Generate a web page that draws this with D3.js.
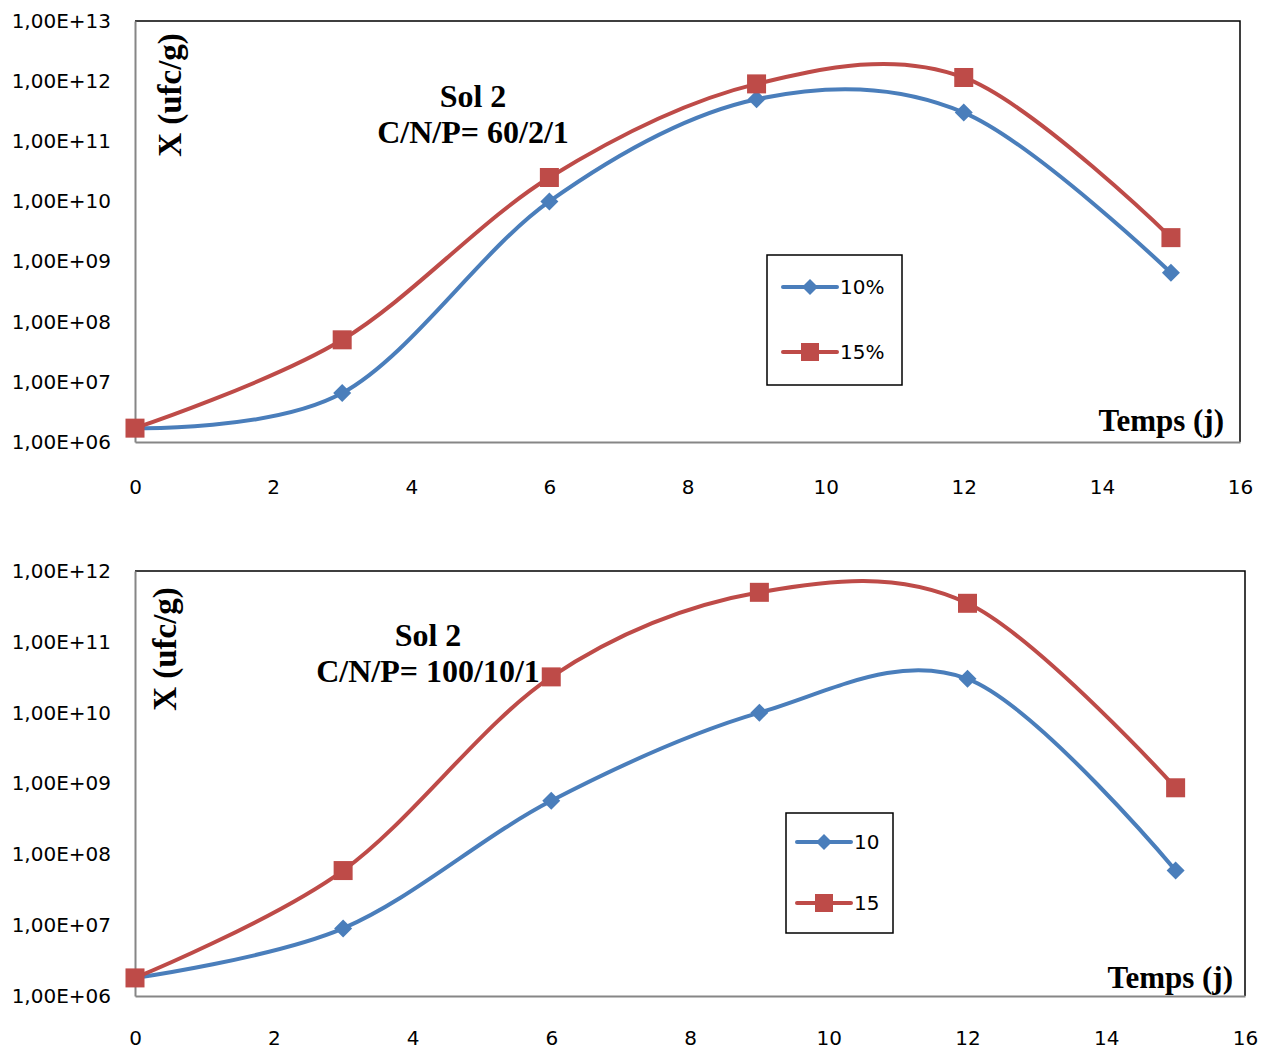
<!DOCTYPE html>
<html><head><meta charset="utf-8">
<script src="https://cdn.jsdelivr.net/npm/d3@7"></script>
<style>body{margin:0;background:#fff}</style>
</head><body>
<svg id="c" width="1271" height="1049"></svg>
<script>
const days = [0, 3, 6, 9, 12, 15];
const xTicks = [0, 2, 4, 6, 8, 10, 12, 14, 16];

// Chart 1 : Sol 2, C/N/P = 60/2/1
const top10 = [1.7e6, 6.5e6, 1.0e10, 5.0e11, 3.0e11, 6.5e8];
const top15 = [1.7e6, 5.0e7, 2.5e10, 9.0e11, 1.15e12, 2.5e9];
const topYTicks = [1e6, 1e7, 1e8, 1e9, 1e10, 1e11, 1e12, 1e13];
const topLegend = ["10%", "15%"];

// Chart 2 : Sol 2, C/N/P = 100/10/1
const bot10 = [1.8e6, 9.0e6, 5.7e8, 1.0e10, 3.0e10, 5.9e7];
const bot15 = [1.8e6, 5.9e7, 3.2e10, 5.0e11, 3.5e11, 8.7e8];
const botYTicks = [1e6, 1e7, 1e8, 1e9, 1e10, 1e11, 1e12];
const botLegend = ["10", "15"];

const BLUE = "#4a7ebb", RED = "#be4b48";
const svg = d3.select("#c");

function fmt(v){ return "1,00E+" + String(Math.round(Math.log10(v))).padStart(2,"0"); }

function chart(cfg){
  const g = svg.append("g");
  const x = d3.scaleLinear().domain([0,16]).range([cfg.left, cfg.right]);
  const y = d3.scaleLog().domain([cfg.yTicks[0], cfg.yTicks[cfg.yTicks.length-1]]).range([cfg.bottom, cfg.top]);

  g.append("path").attr("d", `M${cfg.left},${cfg.top}H${cfg.right}V${cfg.bottom}`)
    .attr("fill","none").attr("stroke","#000").attr("stroke-width",1.5);

  const ya = g.append("g").attr("transform",`translate(${cfg.left},0)`)
    .call(d3.axisLeft(y).tickValues(cfg.yTicks).tickFormat(fmt).tickSize(0).tickPadding(24));
  const xa = g.append("g").attr("transform",`translate(0,${cfg.bottom})`)
    .call(d3.axisBottom(x).tickValues(xTicks).tickFormat(d3.format("d")).tickSize(0).tickPadding(cfg.xPad));
  [ya, xa].forEach(a => {
    a.select(".domain").attr("stroke","#868686").attr("stroke-width",2);
    a.selectAll("text").attr("font-family","DejaVu Sans").attr("font-size",20).attr("fill","#000");
  });
  xa.selectAll("text").attr("dy","0");

  const serif = "Liberation Serif, Times New Roman, serif";
  const t = g.append("text").attr("font-family",serif).attr("font-weight","bold").attr("font-size",32)
    .attr("text-anchor","middle");
  t.append("tspan").attr("x",cfg.titleX).attr("y",cfg.titleY).text("Sol 2");
  t.append("tspan").attr("x",cfg.titleX).attr("y",cfg.titleY+36).text(cfg.ratio);

  g.append("text").attr("font-family",serif).attr("font-weight","bold").attr("font-size",33)
    .attr("text-anchor","middle")
    .attr("transform",`translate(${cfg.yLabX},${cfg.yLabY}) rotate(-90)`).text("X (ufc/g)");

  g.append("text").attr("font-family",serif).attr("font-weight","bold").attr("font-size",31)
    .attr("text-anchor","end").attr("x",cfg.tempsX).attr("y",cfg.tempsY).text("Temps (j)");

  const line = d3.line().x((d,i)=>x(days[i])).y(d=>y(d)).curve(d3.curveCardinal.tension(0));
  const diamond = (cx,cy,r)=>`M${cx},${cy-r}L${cx+r},${cy}L${cx},${cy+r}L${cx-r},${cy}Z`;

  const series = [
    {vals: cfg.s10, color: BLUE, m: "d"},
    {vals: cfg.s15, color: RED, m: "s"}
  ];
  series.forEach(s=>{
    g.append("path").attr("d", line(s.vals)).attr("fill","none").attr("stroke",s.color)
      .attr("stroke-width",4).attr("stroke-linecap","round");
    s.vals.forEach((v,i)=>{
      const cx = x(days[i]), cy = y(v);
      if (s.m==="d") g.append("path").attr("d",diamond(cx,cy,9)).attr("fill",s.color);
      else g.append("rect").attr("x",cx-9.5).attr("y",cy-9.5).attr("width",19).attr("height",19).attr("fill",s.color);
    });
  });

  const L = cfg.legend;
  g.append("rect").attr("x",L.x).attr("y",L.y).attr("width",L.w).attr("height",L.h)
    .attr("fill","#fff").attr("stroke","#000").attr("stroke-width",1.5);
  series.forEach((s,i)=>{
    const ry = L.rows[i];
    g.append("line").attr("x1",L.lx1).attr("x2",L.lx2).attr("y1",ry).attr("y2",ry)
      .attr("stroke",s.color).attr("stroke-width",4).attr("stroke-linecap","round");
    const cx = (L.lx1+L.lx2)/2;
    if (s.m==="d") g.append("path").attr("d",diamond(cx,ry,8)).attr("fill",s.color);
    else g.append("rect").attr("x",cx-9).attr("y",ry-9).attr("width",18).attr("height",18).attr("fill",s.color);
    g.append("text").attr("x",L.lx2+3).attr("y",ry).attr("dy","0.35em")
      .attr("font-family","DejaVu Sans").attr("font-size",20).text(cfg.legendLabels[i]);
  });
}

chart({left:135, right:1240, top:21, bottom:442, xPad:52, yTicks:topYTicks, s10:top10, s15:top15,
  ratio:"C/N/P= 60/2/1", titleX:473, titleY:107, yLabX:181, yLabY:95, tempsX:1224, tempsY:431,
  legend:{x:767,y:255,w:135,h:130,lx1:783,lx2:837,rows:[287,352]}, legendLabels:topLegend});

chart({left:135, right:1245, top:571, bottom:996, xPad:49, yTicks:botYTicks, s10:bot10, s15:bot15,
  ratio:"C/N/P= 100/10/1", titleX:428, titleY:646, yLabX:176, yLabY:649, tempsX:1233, tempsY:988,
  legend:{x:786,y:813,w:107,h:120,lx1:797,lx2:851,rows:[842,903]}, legendLabels:botLegend});
</script>
</body></html>
